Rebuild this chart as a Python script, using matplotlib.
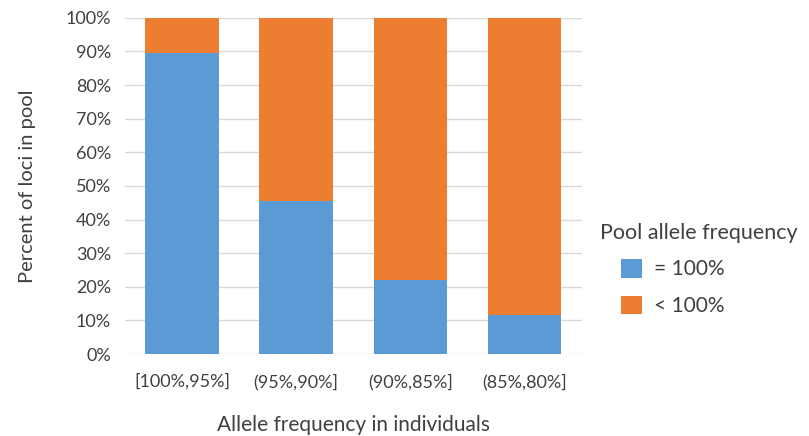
import matplotlib.pyplot as plt
import numpy as np
from matplotlib.ticker import PercentFormatter

plt.rcParams['font.family'] = ['Lato', 'DejaVu Sans']

# allele frequency bins and share of loci at full pool frequency
bins = ['[100%,95%]', '(95%,90%]', '(90%,85%]', '(85%,80%]']
full_pool = [89.6, 45.5, 22.0, 11.6]
partial_pool = [100 - v for v in full_pool]

blue = '#5B9BD5'
orange = '#ED7D31'
grey_txt = '#404040'

fig = plt.figure(figsize=(8.09, 4.36), dpi=100)
ax = fig.add_axes([0.1545, 0.188, 0.5645, 0.771])

x = np.arange(len(bins))
b1 = ax.bar(x, full_pool, width=0.645, color=blue, label='= 100%', zorder=3)
b2 = ax.bar(x, partial_pool, width=0.645, bottom=full_pool, color=orange,
            label='< 100%', zorder=3)

ax.set_xlim(-0.5, len(bins) - 0.5)
ax.set_ylim(0, 100)
ax.set_yticks(np.arange(0, 101, 10))
ax.yaxis.set_major_formatter(PercentFormatter(decimals=0))
ax.set_xticks(x)
ax.set_xticklabels(bins)
ax.grid(axis='y', color='#D9D9D9', linewidth=1, zorder=0)
for s in ax.spines.values():
    s.set_visible(False)
ax.tick_params(length=0, labelsize=13, colors=grey_txt)
ax.tick_params(axis='y', pad=10)
ax.tick_params(axis='x', pad=14)

ax.set_ylabel('Percent of loci in pool', fontsize=14.5, color=grey_txt, labelpad=21)
ax.set_xlabel('Allele frequency in individuals', fontsize=15, color=grey_txt, labelpad=18)

# legend title sits to the left of the indented entries
fig.text(0.742, 0.466, 'Pool allele frequency', fontsize=15.5, color=grey_txt,
         ha='left', va='center')
leg = fig.legend(handles=[b1, b2], loc='upper left',
                 bbox_to_anchor=(0.757, 0.425),
                 frameon=False, fontsize=15,
                 handlelength=1.0, handleheight=1.0, labelspacing=0.78,
                 handletextpad=0.6, borderaxespad=0)
for t in leg.get_texts():
    t.set_color(grey_txt)

fig.savefig('out.png', dpi=100)
